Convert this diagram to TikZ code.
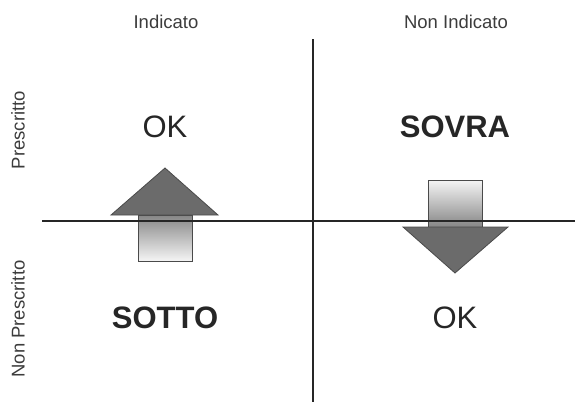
\documentclass[tikz,border=0pt]{standalone}
\usepackage{fontspec}
\setmainfont{Liberation Sans}
\usepackage{xcolor}
\usepackage{tikz}
\definecolor{inkgray}{HTML}{262626}
\definecolor{headgray}{HTML}{6B6B6B}
\definecolor{edgegray}{HTML}{4A4A4A}
\tikzset{
  axislabel/.style={text=inkgray!90, font=\fontsize{18.5}{22}\selectfont, inner sep=0pt},
  bigword/.style={text=inkgray, font=\fontsize{31}{35}\selectfont, inner sep=0pt},
  boldword/.style={bigword, font=\fontsize{31}{35}\selectfont\bfseries},
  arrowhead/.style={fill=headgray, draw=edgegray, line width=.8pt, line join=miter},
  axisline/.style={draw=inkgray, line width=1.7pt}
}

\begin{document}
\begin{tikzpicture}[x=1pt, y=-1pt]
\useasboundingbox (0,0) rectangle (575,402);
% labels of columns and rows
\node[axislabel] (ind)    at (166,22) {Indicato};
\node[axislabel] (nonind) at (456,22) {Non Indicato};
\node[axislabel, rotate=90] (pre)    at (18,130) {Prescritto};
\node[axislabel, rotate=90] (nonpre) at (18,319) {Non Prescritto};
% the four cells
\node[bigword]  (okup)   at (165,127) {OK};
\node[boldword] (sovra)  at (455,127) {SOVRA};
\node[boldword] (sotto)  at (165,318) {SOTTO};
\node[bigword]  (okdown) at (455,318) {OK};
% up arrow
\shade[top color=gray!95, bottom color=gray!8, draw=edgegray, line width=.8pt]
  (138,215) rectangle (192,261);
\filldraw[arrowhead] (111,215) -- (165,168) -- (218,215) -- cycle;
% down arrow
\shade[top color=gray!8, bottom color=gray!95, draw=edgegray, line width=.8pt]
  (428,180) rectangle (482,227);
\filldraw[arrowhead] (403,227) -- (455,273) -- (508,227) -- cycle;
% axes
\coordinate (west)  at (42,221);
\coordinate (east)  at (575,221);
\coordinate (north) at (313,39);
\coordinate (south) at (313,402);
\draw[axisline] (west) -- (east);
\draw[axisline] (north) -- (south);
\end{tikzpicture}
\end{document}
